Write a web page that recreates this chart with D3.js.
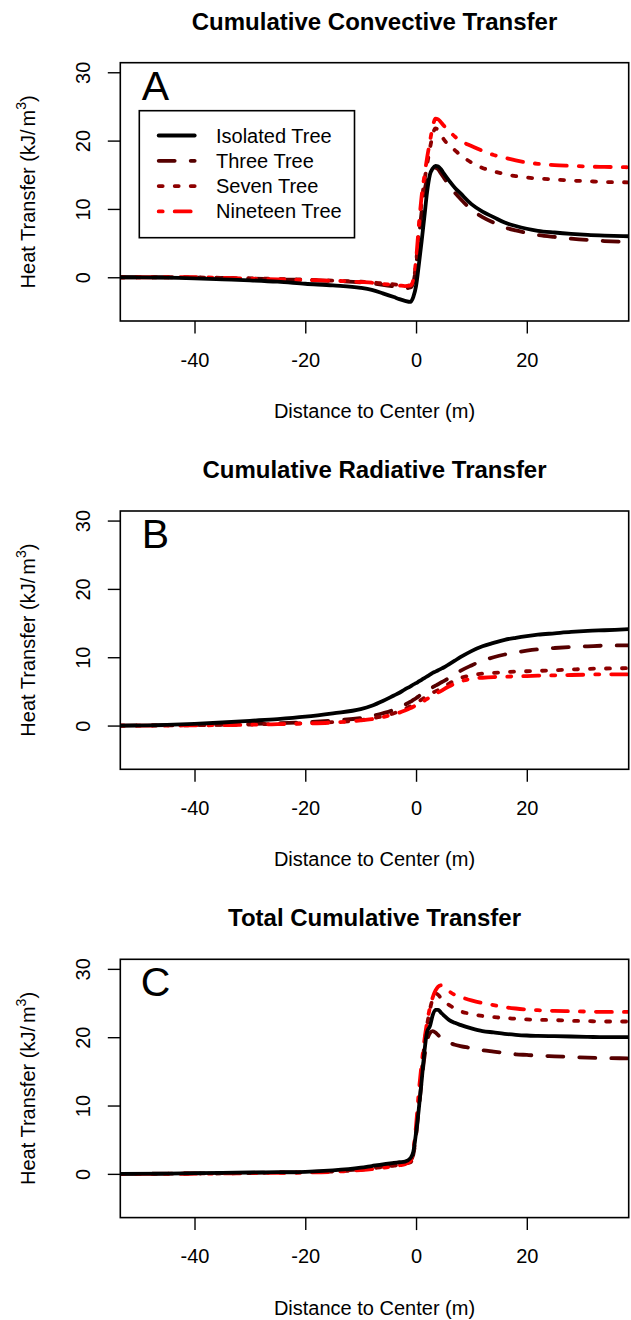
<!DOCTYPE html>
<html>
<head>
<meta charset="utf-8">
<script src="https://cdn.jsdelivr.net/npm/d3@7"></script>
<style>
  html, body { margin: 0; padding: 0; background: #ffffff; }
  svg text { font-family: "Liberation Sans", Arial, sans-serif; fill: #000; }
</style>
</head>
<body>
<svg id="chart" width="631" height="1320"></svg>
<script>
// Distance from the stand centre (m) at which every series is sampled
const distance = [-53.4, -45, -40, -35, -30, -25, -20, -15, -10, -8, -6, -4, -3, -2, -1, -0.5,
  0, 0.5, 1, 1.5, 2, 2.5, 3, 3.5, 4, 4.5, 5, 6, 7, 8, 10, 12, 14, 16, 18, 20, 22, 25, 28, 31, 34, 38.4];

// Cumulative convective transfer (kJ/m^3)
const convIsolated = [0, -0.05, -0.15, -0.3, -0.45, -0.65, -0.95, -1.2, -1.55, -1.85, -2.35, -2.9, -3.2, -3.45, -3.6, -2.9,
  -1.3, 1.8, 5.2, 8.8, 12.5, 15.0, 15.9, 16.3, 16.2, 15.8, 15.2, 14.1, 13.1, 12.3, 10.7, 9.6, 8.8, 8.0, 7.5, 7.1, 6.8, 6.55, 6.35, 6.2, 6.1, 6.0];
const convThree = [0, 0, -0.05, -0.1, -0.2, -0.3, -0.4, -0.55, -0.75, -0.9, -1.1, -1.35, -1.5, -1.6, -1.5, -0.8,
  1.5, 5.5, 9.5, 12.5, 14.3, 15.3, 15.8, 16.0, 15.8, 15.2, 14.6, 13.4, 12.4, 11.5, 9.9, 8.8, 8.0, 7.3, 6.85, 6.5, 6.2, 5.9, 5.65, 5.45, 5.3, 5.15];
const convSeven = [0, 0, -0.02, -0.08, -0.15, -0.25, -0.35, -0.5, -0.65, -0.75, -0.9, -1.05, -1.15, -1.25, -1.2, -0.5,
  2.0, 6.8, 11.0, 14.0, 16.5, 18.8, 20.8, 21.8, 21.5, 20.9, 20.2, 19.3, 18.6, 17.9, 16.8, 16.0, 15.5, 15.1, 14.8, 14.6, 14.45, 14.3, 14.15, 14.05, 13.95, 13.9];
const convNineteen = [0, 0, 0, -0.1, -0.2, -0.3, -0.4, -0.5, -0.7, -0.8, -1.0, -1.1, -1.2, -1.3, -1.2, -0.4,
  2.5, 7.5, 11.8, 14.8, 17.5, 19.8, 22.0, 23.2, 23.1, 22.7, 22.2, 21.4, 20.6, 20.0, 19.2, 18.5, 17.9, 17.5, 17.1, 16.8, 16.6, 16.4, 16.3, 16.2, 16.15, 16.1];

// Cumulative radiative transfer (kJ/m^3)
const radIsolated = [0, 0.1, 0.25, 0.45, 0.7, 0.95, 1.3, 1.8, 2.4, 2.9, 3.6, 4.4, 4.8, 5.3, 5.75, 6.0,
  6.2, 6.45, 6.7, 6.95, 7.2, 7.45, 7.7, 7.9, 8.1, 8.3, 8.5, 9.0, 9.5, 10.0, 10.9, 11.6, 12.1, 12.55, 12.85, 13.1, 13.3, 13.5, 13.7, 13.85, 13.95, 14.1];
const radThree = [0, 0.05, 0.1, 0.15, 0.25, 0.35, 0.5, 0.75, 1.1, 1.4, 1.8, 2.3, 2.65, 3.05, 3.5, 3.75,
  4.0, 4.3, 4.6, 4.85, 5.1, 5.35, 5.6, 5.85, 6.05, 6.3, 6.5, 7.0, 7.5, 8.0, 8.8, 9.5, 10.0, 10.4, 10.7, 10.95, 11.15, 11.35, 11.5, 11.6, 11.7, 11.75];
const radSeven = [0, 0.02, 0.05, 0.1, 0.15, 0.25, 0.35, 0.5, 0.8, 1.05, 1.35, 1.8, 2.1, 2.45, 2.85, 3.1,
  3.3, 3.55, 3.8, 4.05, 4.3, 4.55, 4.8, 5.0, 5.2, 5.45, 5.7, 6.15, 6.6, 6.95, 7.35, 7.6, 7.7, 7.8, 7.9, 7.95, 8.0, 8.1, 8.2, 8.3, 8.35, 8.4];
const radNineteen = [0, 0, 0.03, 0.07, 0.12, 0.2, 0.3, 0.45, 0.75, 0.95, 1.25, 1.65, 1.9, 2.2, 2.55, 2.75,
  3.0, 3.2, 3.4, 3.65, 3.9, 4.15, 4.4, 4.6, 4.85, 5.05, 5.3, 5.75, 6.15, 6.45, 6.85, 7.0, 7.1, 7.15, 7.2, 7.25, 7.3, 7.35, 7.4, 7.45, 7.5, 7.5];

// Total cumulative transfer (kJ/m^3)
const totIsolated = [0, 0.05, 0.1, 0.15, 0.2, 0.25, 0.3, 0.5, 0.9, 1.15, 1.4, 1.6, 1.7, 1.8, 2.3, 3.2,
  6.0, 9.5, 13.5, 17.8, 20.8, 21.6, 23.2, 24.0, 24.0, 23.6, 23.2, 22.5, 22.1, 21.8, 21.3, 20.9, 20.7, 20.5, 20.35, 20.25, 20.2, 20.15, 20.1, 20.05, 20.0, 20.0];
const totThree = [0, 0.03, 0.07, 0.1, 0.15, 0.2, 0.25, 0.4, 0.7, 0.9, 1.1, 1.3, 1.45, 1.6, 2.0, 2.8,
  5.5, 9.5, 13.5, 17.0, 19.5, 20.6, 20.9, 20.7, 20.3, 19.9, 19.6, 19.2, 18.9, 18.7, 18.4, 18.1, 17.9, 17.7, 17.5, 17.4, 17.3, 17.2, 17.1, 17.0, 16.95, 16.9];
const totSeven = [0, 0.02, 0.05, 0.08, 0.12, 0.17, 0.22, 0.35, 0.6, 0.8, 1.0, 1.2, 1.35, 1.5, 1.7, 2.8,
  6.0, 10.5, 14.8, 18.8, 21.8, 24.0, 25.6, 26.4, 26.2, 25.7, 25.2, 24.7, 24.2, 23.8, 23.4, 23.1, 22.95, 22.8, 22.7, 22.6, 22.55, 22.5, 22.4, 22.35, 22.3, 22.3];
const totNineteen = [0, 0, 0.03, 0.06, 0.1, 0.15, 0.2, 0.3, 0.55, 0.7, 0.9, 1.1, 1.25, 1.4, 1.9, 3.5,
  7.0, 12.0, 16.0, 19.5, 22.2, 24.3, 25.8, 26.8, 27.4, 27.6, 27.3, 26.7, 26.2, 25.9, 25.4, 25.0, 24.7, 24.4, 24.2, 24.05, 23.95, 23.85, 23.8, 23.75, 23.7, 23.7];

const seriesNames = ["Isolated Tree", "Three Tree", "Seven Tree", "Nineteen Tree"];
const panelTitles = ["Cumulative Convective Transfer", "Cumulative Radiative Transfer", "Total Cumulative Transfer"];
const panelLetters = ["A", "B", "C"];
const xTicks = [-40, -20, 0, 20];
const yTicks = [0, 10, 20, 30];
const xLabel = "Distance to Center (m)";

const panels = [
  [convIsolated, convThree, convSeven, convNineteen],
  [radIsolated, radThree, radSeven, radNineteen],
  [totIsolated, totThree, totSeven, totNineteen]
];

// Line styles per stand type (R-like lty patterns scaled by line width)
const styles = [
  { color: "#000000", dash: null },
  { color: "#560000", dash: "16,16" },
  { color: "#8e0000", dash: "4,12" },
  { color: "#ff0000", dash: "4,12,16,12" }
];
const lineW = 3.8;

// Layout
const plotLeft = 120.3, plotRight = 628.7, plotH = 258.3;
const panelTops = [62.7, 511, 959.3];

const svg = d3.select("#chart");
svg.append("rect").attr("width", 631).attr("height", 1320).attr("fill", "#fff");

const x = d3.scaleLinear().domain([-53.4, 38.4]).range([plotLeft, plotRight]);

panels.forEach((series, p) => {
  const top = panelTops[p];
  const bottom = top + plotH;
  const y = d3.scaleLinear().domain([-6.4, 31.4]).range([bottom, top]);
  const g = svg.append("g");

  const clipId = "clip" + p;
  svg.append("clipPath").attr("id", clipId)
    .append("rect").attr("x", plotLeft).attr("y", top)
    .attr("width", plotRight - plotLeft).attr("height", plotH);

  // title
  g.append("text")
    .attr("x", (plotLeft + plotRight) / 2).attr("y", top - 33.2)
    .attr("text-anchor", "middle")
    .style("font-size", "24px").style("font-weight", "bold")
    .text(panelTitles[p]);

  // series (isolated tree drawn last so it sits on top)
  const line = d3.line().x((d, i) => x(distance[i])).y(d => y(d)).curve(d3.curveMonotoneX);
  const lines = g.append("g").attr("clip-path", `url(#${clipId})`);
  [1, 2, 3, 0].forEach(k => {
    lines.append("path")
      .datum(series[k])
      .attr("d", line)
      .attr("fill", "none")
      .attr("stroke", styles[k].color)
      .attr("stroke-width", lineW)
      .attr("stroke-linecap", "round")
      .attr("stroke-linejoin", "round")
      .attr("stroke-dasharray", styles[k].dash);
  });

  // x axis
  const xAxis = d3.axisBottom(x).tickValues(xTicks).tickSize(12.5).tickPadding(0).tickFormat(d3.format("d"));
  const gx = g.append("g").attr("transform", `translate(0,${bottom})`).call(xAxis);
  gx.select(".domain").remove();
  gx.selectAll(".tick line").attr("stroke", "#000").attr("stroke-width", 1.4);
  gx.selectAll(".tick text").attr("y", 45.7).attr("dy", null)
    .style("font-size", "20px").style("font-family", "Liberation Sans, Arial, sans-serif")
    .text(d => d < 0 ? "-" + Math.abs(d) : String(d));

  // y axis
  const yAxis = d3.axisLeft(y).tickValues(yTicks).tickSize(12.5).tickFormat(d3.format("d"));
  const gy = g.append("g").attr("transform", `translate(${plotLeft},0)`).call(yAxis);
  gy.select(".domain").remove();
  gy.selectAll(".tick line").attr("stroke", "#000").attr("stroke-width", 1.4);
  gy.selectAll(".tick text").remove();
  gy.selectAll(".tick").append("text")
    .attr("transform", "translate(-30.3,0) rotate(-90)")
    .attr("text-anchor", "middle")
    .style("font-size", "20px")
    .style("font-family", "Liberation Sans, Arial, sans-serif")
    .attr("fill", "#000")
    .text(d => d);

  // plot frame
  g.append("rect")
    .attr("x", plotLeft).attr("y", top)
    .attr("width", plotRight - plotLeft).attr("height", plotH)
    .attr("fill", "none").attr("stroke", "#000").attr("stroke-width", 1.6);

  // panel letter
  g.append("text")
    .attr("x", 155.5).attr("y", top + 36.8)
    .attr("text-anchor", "middle")
    .style("font-size", "41px")
    .text(panelLetters[p]);

  // axis titles
  g.append("text")
    .attr("x", (plotLeft + plotRight) / 2).attr("y", bottom + 97)
    .attr("text-anchor", "middle").style("font-size", "20px")
    .text(xLabel);

  const yt = g.append("text")
    .attr("transform", `translate(35,${(top + bottom) / 2}) rotate(-90)`)
    .attr("text-anchor", "middle").style("font-size", "20px");
  yt.append("tspan").text("Heat Transfer (kJ/");
  yt.append("tspan").attr("dx", 3).text("m");
  yt.append("tspan").attr("dy", -9).style("font-size", "14px").text("3");
  yt.append("tspan").attr("dy", 9).text(")");

  // legend in the first panel
  if (p === 0) {
    const lg = g.append("g");
    lg.append("rect")
      .attr("x", 139.3).attr("y", 110.7).attr("width", 215.2).attr("height", 127)
      .attr("fill", "#fff").attr("stroke", "#000").attr("stroke-width", 1.6);
    seriesNames.forEach((name, k) => {
      const cy = 135.5 + k * 25.3;
      lg.append("line")
        .attr("x1", 158.7).attr("x2", 194.7).attr("y1", cy).attr("y2", cy)
        .attr("stroke", styles[k].color).attr("stroke-width", lineW)
        .attr("stroke-linecap", "round")
        .attr("stroke-dasharray", styles[k].dash);
      lg.append("text")
        .attr("x", 216).attr("y", cy + 7)
        .style("font-size", "20px")
        .text(name);
    });
  }
});
</script>
</body>
</html>
